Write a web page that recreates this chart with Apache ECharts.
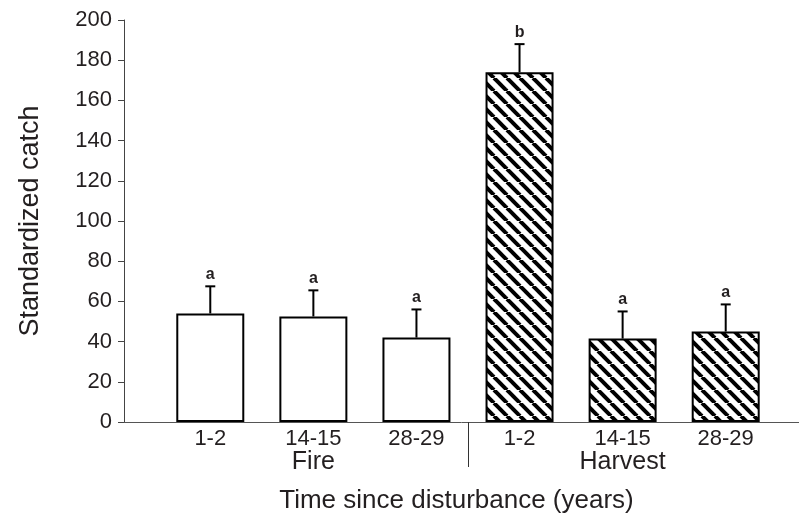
<!DOCTYPE html>
<html>
<head>
<meta charset="utf-8">
<script src="https://cdn.jsdelivr.net/npm/echarts@6/dist/echarts.min.js"></script>
<style>
  html, body { margin: 0; padding: 0; background: #fff; }
  #chart { width: 799px; height: 518px; }
</style>
</head>
<body>
<div id="chart"></div>
<script>
// 数据：类别、均值、误差上界、显著性字母
const categories = ['1-2', '14-15', '28-29', '1-2', '14-15', '28-29']
const groups = ['Fire', 'Harvest']
const groupOf = [0, 0, 0, 1, 1, 1]
const means = [54, 52.5, 42, 174, 41.5, 45]
const upper = [67.5, 65.5, 56, 188, 55, 58.5]
const letters = ['a', 'a', 'a', 'b', 'a', 'a']
const yTicks = { min: 0, max: 200, interval: 20 }

const FONT = 'Liberation Sans, Arial, Helvetica, sans-serif'
const INK = '#231f20'

// 斜线填充（"\" 方向）
function makeHatch() {
  const s = 13
  const c = document.createElement('canvas')
  c.width = s
  c.height = s
  const ctx = c.getContext('2d')
  ctx.fillStyle = '#fff'
  ctx.fillRect(0, 0, s, s)
  ctx.strokeStyle = '#000'
  ctx.lineWidth = 4
  for (let k = -1; k <= 1; k++) {
    ctx.beginPath()
    ctx.moveTo(k * s, 0)
    ctx.lineTo(k * s + s, s)
    ctx.stroke()
  }
  return c
}
const hatch = { image: makeHatch(), repeat: 'repeat' }

// 分类中心放在 1..6，范围按原图留白
const xMin = 0.163
const xMax = 6.711
const catPos = categories.map((_, i) => i + 1)
const groupPos = [2, 5]
const sepPos = [3.5]

const barData = means.map((v, i) => ({
  value: [catPos[i], v],
  itemStyle: { color: groupOf[i] === 0 ? '#fff' : hatch }
}))
const errData = means.map((v, i) => [catPos[i], v, upper[i]])

const chart = echarts.init(document.getElementById('chart'))
chart.setOption({
  animation: false,
  grid: { left: 124, right: 0, top: 20, bottom: 96, outerBoundsMode: 'none' },
  xAxis: [
    {
      type: 'value',
      min: xMin,
      max: xMax,
      splitLine: { show: false },
      axisLine: { show: true, lineStyle: { color: '#555', width: 1 } },
      axisTick: { show: true, customValues: sepPos, length: 45, lineStyle: { color: '#333', width: 1 } },
      axisLabel: {
        customValues: catPos,
        formatter: v => categories[Math.round(v) - 1],
        fontFamily: FONT, fontSize: 22, color: INK, margin: 6
      },
      name: 'Time since disturbance (years)',
      nameLocation: 'middle',
      nameGap: 66,
      nameTextStyle: { fontFamily: FONT, fontSize: 26, color: INK, padding: [0, 10, 0, 0] }
    },
    {
      type: 'value',
      position: 'bottom',
      min: xMin,
      max: xMax,
      splitLine: { show: false },
      axisLine: { show: false },
      axisTick: { show: false },
      axisLabel: {
        customValues: groupPos,
        formatter: v => groups[v === 2 ? 0 : 1],
        fontFamily: FONT, fontSize: 25, color: INK, margin: 28
      }
    }
  ],
  yAxis: {
    type: 'value',
    min: yTicks.min,
    max: yTicks.max,
    interval: yTicks.interval,
    splitLine: { show: false },
    axisLine: { show: true, lineStyle: { color: '#444', width: 1 } },
    axisTick: { show: true, length: 6, lineStyle: { color: '#444', width: 1 } },
    axisLabel: { fontFamily: FONT, fontSize: 22, color: INK, margin: 12 },
    name: 'Standardized catch',
    nameLocation: 'middle',
    nameRotate: 90,
    nameGap: 80,
    nameTextStyle: { fontFamily: FONT, fontSize: 27, color: INK }
  },
  series: [
    {
      type: 'bar',
      xAxisIndex: 0,
      barWidth: 68,
      data: barData,
      itemStyle: { borderColor: '#000', borderWidth: 2 }
    },
    {
      type: 'custom',
      xAxisIndex: 0,
      encode: { x: 0, y: [1, 2] },
      data: errData,
      z: 5,
      renderItem(params, api) {
        const x = api.value(0)
        const lo = api.coord([x, api.value(1)])
        const hi = api.coord([x, api.value(2)])
        return {
          type: 'group',
          children: [
            { type: 'line', shape: { x1: lo[0], y1: lo[1], x2: hi[0], y2: hi[1] }, style: { stroke: '#000', lineWidth: 2 } },
            { type: 'line', shape: { x1: hi[0] - 5, y1: hi[1], x2: hi[0] + 5, y2: hi[1] }, style: { stroke: '#000', lineWidth: 2 } },
            {
              type: 'text',
              x: hi[0],
              y: hi[1] - 4,
              style: {
                text: letters[params.dataIndex],
                fontFamily: FONT, fontSize: 16, fontWeight: 'bold', fill: INK,
                align: 'center', verticalAlign: 'bottom'
              }
            }
          ]
        }
      }
    }
  ]
})
</script>
</body>
</html>
